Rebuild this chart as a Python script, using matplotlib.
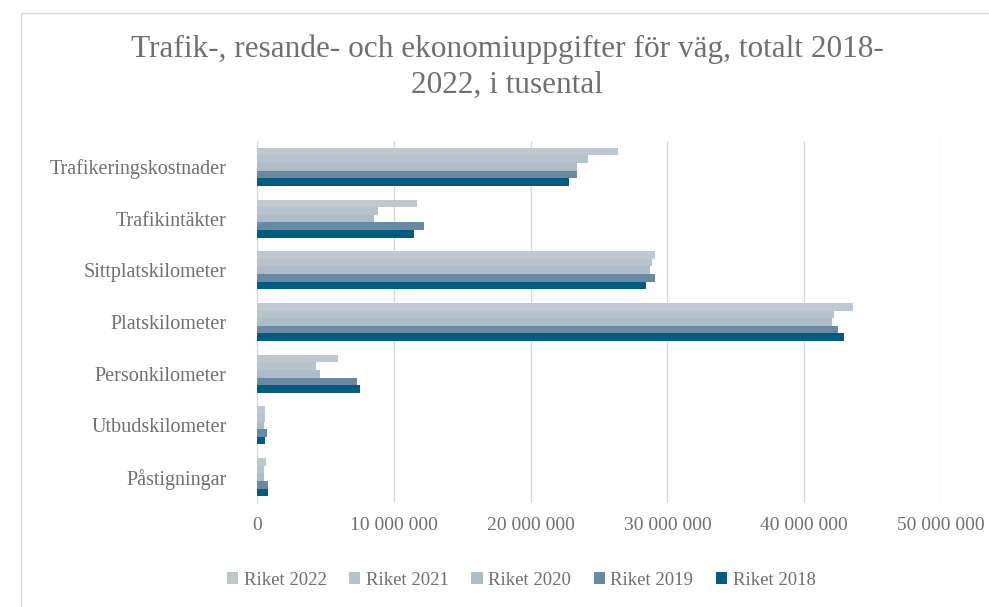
import matplotlib.pyplot as plt
import numpy as np
from matplotlib.patches import Rectangle

categories = ["Trafikeringskostnader", "Trafikintäkter", "Sittplatskilometer",
              "Platskilometer", "Personkilometer", "Utbudskilometer", "Påstigningar"]
series = ["Riket 2022", "Riket 2021", "Riket 2020", "Riket 2019", "Riket 2018"]

# values in millions
riket_2022 = [26.4, 11.7, 29.1, 43.6, 5.9, 0.55, 0.63]
riket_2021 = [24.2, 8.85, 28.9, 42.2, 4.3, 0.55, 0.5]
riket_2020 = [23.4, 8.56, 28.7, 42.0, 4.6, 0.5, 0.5]
riket_2019 = [23.4, 12.2, 29.1, 42.5, 7.3, 0.7, 0.8]
riket_2018 = [22.8, 11.5, 28.4, 42.9, 7.5, 0.55, 0.8]
values = [riket_2022, riket_2021, riket_2020, riket_2019, riket_2018]
colors = ["#bfc8d1", "#b6c2cc", "#adbcc8", "#6a8aa3", "#005d80"]

xticks = [0, 10e6, 20e6, 30e6, 40e6, 50e6]
xticklabels = ["0", "10 000 000", "20 000 000", "30 000 000", "40 000 000", "50 000 000"]

plt.rcParams['font.family'] = ['Liberation Serif', 'DejaVu Serif']
txt = "#6f6f6f"

fig = plt.figure(figsize=(9.89, 6.07), dpi=100)
ax = fig.add_axes([0.2599, 0.1713, 0.9515 - 0.2599, 0.7677 - 0.1713])

n = len(series)
group = 0.735
h = group / n
y = np.arange(len(categories))
for i, (name, vals, c) in enumerate(zip(series, values, colors)):
    off = -group / 2 + h * (i + 0.5)
    ax.barh(y + off, np.array(vals) * 1e6, height=h, color=c, label=name, zorder=3)

ax.set_ylim(len(categories) - 0.5, -0.5)
ax.set_yticks(y)
ax.set_yticklabels(categories, fontsize=14.5, color=txt)
ax.set_xlim(0, 50e6)
ax.set_xticks(xticks)
ax.set_xticklabels(xticklabels, fontsize=14, color=txt)
ax.tick_params(axis='both', length=0)
ax.tick_params(axis='y', pad=22)
ax.tick_params(axis='x', pad=10)
ax.grid(axis='x', color="#d9d9d9", linewidth=1, zorder=0)
for s in ["top", "right", "bottom"]:
    ax.spines[s].set_visible(False)
ax.spines["left"].set_color("#d9d9d9")

fig.text(0.513, 1 - 67 / 607, "Trafik-, resande- och ekonomiuppgifter för väg, totalt 2018-\n2022, i tusental",
         ha="center", va="center", fontsize=22.5, color=txt, linespacing=1.3)

fig.legend(loc="center", bbox_to_anchor=(0.527, 0.044), ncol=5, frameon=False,
           fontsize=13.5, labelcolor=txt, handlelength=0.6, handleheight=0.6,
           handletextpad=0.3, columnspacing=1.2)

fig.patches.append(Rectangle((21 / 989, -0.05), 1.1, 0.979 + 0.05, transform=fig.transFigure,
                             fill=False, edgecolor="#d9d9d9", linewidth=1))

fig.savefig("out.png", dpi=100)
